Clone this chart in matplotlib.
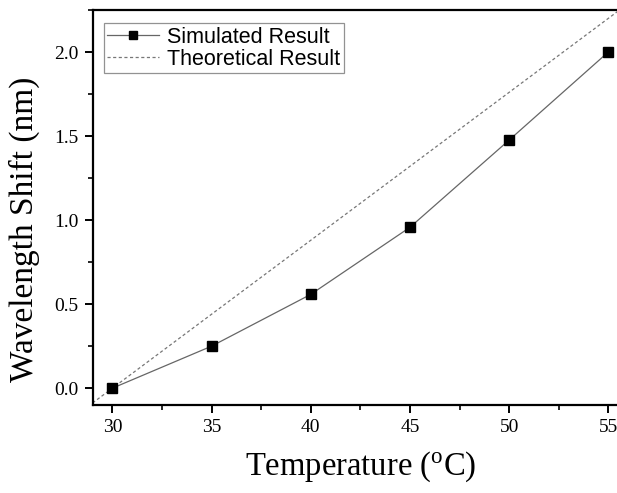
import matplotlib.pyplot as plt
from matplotlib.ticker import MultipleLocator

# simulated wavelength shift
temperature = [30, 35, 40, 45, 50, 55]
simulated_shift = [0.0, 0.25, 0.558, 0.957, 1.476, 2.0]

# theoretical result is a straight line (~0.088 nm/degC)
theory_temp = [29, 30, 56]
theory_shift = [-0.088, 0.0, 2.288]

SERIF = "Liberation Serif"
SANS = "Liberation Sans"


def main():
    fig = plt.figure(figsize=(6.17, 4.93), dpi=100)
    ax = fig.add_axes([0.150, 0.1785, 0.868, 0.8012])

    ax.plot(theory_temp, theory_shift, color="#777777", lw=0.9,
            linestyle=(0, (2.5, 2.0)), label="Theoretical Result", zorder=2)
    ax.plot(temperature, simulated_shift, color="#666666", lw=0.9,
            marker="s", markersize=7, markerfacecolor="black",
            markeredgecolor="black", label="Simulated Result", zorder=3)

    ax.set_xlim(29, 56)
    ax.set_ylim(-0.1, 2.25)
    ax.xaxis.set_major_locator(MultipleLocator(5))
    ax.xaxis.set_minor_locator(MultipleLocator(2.5))
    ax.yaxis.set_major_locator(MultipleLocator(0.5))
    ax.yaxis.set_minor_locator(MultipleLocator(0.25))
    ax.yaxis.set_major_formatter(lambda v, p: "%.1f" % v)

    ax.tick_params(which="major", direction="out", length=6, width=1.4,
                   labelsize=14, pad=4)
    ax.tick_params(which="minor", direction="out", length=3.5, width=1.2)
    for lab in ax.get_xticklabels() + ax.get_yticklabels():
        lab.set_fontfamily(SERIF)
    for sp in ax.spines.values():
        sp.set_linewidth(1.6)

    ax.set_xlabel("Temperature ($\\mathregular{^oC}$)", fontfamily=SERIF,
                  fontsize=23.5, labelpad=10)
    ax.set_ylabel("Wavelength Shift (nm)", fontfamily=SERIF, fontsize=24)
    # the original label sits a bit below the axes centre
    ax.yaxis.set_label_coords(-0.099, 0.446)

    handles, labels = ax.get_legend_handles_labels()
    leg = ax.legend(handles[::-1], labels[::-1], loc="upper left",
                    bbox_to_anchor=(0.021, 0.966), prop={"family": SANS,
                    "size": 15.5}, frameon=True, fancybox=False,
                    markerscale=0.75, handlelength=2.4, handletextpad=0.4,
                    borderpad=0.15, labelspacing=0.05, borderaxespad=0)
    leg.get_frame().set_edgecolor("#777777")
    leg.get_frame().set_linewidth(0.9)

    fig.savefig("out.png", dpi=100)


if __name__ == "__main__":
    main()
